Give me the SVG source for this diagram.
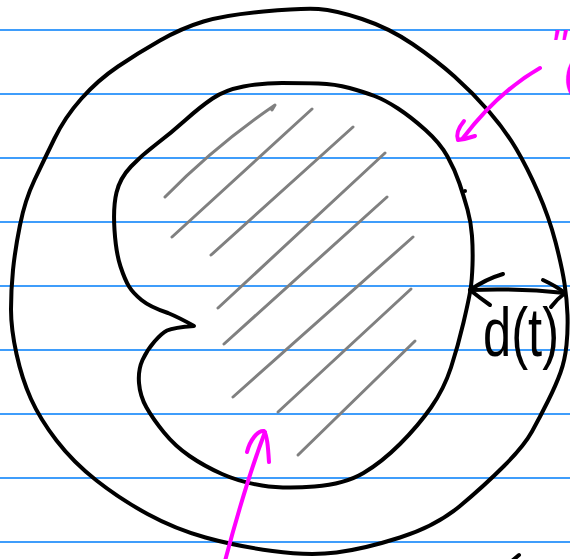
<svg xmlns="http://www.w3.org/2000/svg" width="570" height="559" viewBox="0 0 570 559">
  <style>
    .rule { stroke: #3f9dfb; stroke-width: 1.8; }
    .ink { fill: none; stroke: #000000; stroke-width: 4; stroke-linecap: round; stroke-linejoin: round; }
    .hatch { fill: none; stroke: #808080; stroke-width: 3; stroke-linecap: round; stroke-linejoin: round; }
    .pink { fill: none; stroke: #ff00ff; stroke-width: 4; stroke-linecap: round; stroke-linejoin: round; }
    .label { font-family: "Liberation Sans", Arial, sans-serif; }
  </style>
  <rect width="570" height="559" fill="#ffffff"/>
  <g id="ruling">
    <line class="rule" x1="0" y1="30" x2="570" y2="30"/>
    <line class="rule" x1="0" y1="94" x2="570" y2="94"/>
    <line class="rule" x1="0" y1="158" x2="570" y2="158"/>
    <line class="rule" x1="0" y1="222" x2="570" y2="222"/>
    <line class="rule" x1="0" y1="286" x2="570" y2="286"/>
    <line class="rule" x1="0" y1="350" x2="570" y2="350"/>
    <line class="rule" x1="0" y1="414" x2="570" y2="414"/>
    <line class="rule" x1="0" y1="478" x2="570" y2="478"/>
    <line class="rule" x1="0" y1="542" x2="570" y2="542"/>
  </g>
  <g id="outer-boundary">
    <path class="ink" d="M 263.5,11.5 Q 302,8 318.5,9 Q 335,10 362,19 Q 389,28 412.5,44 Q 436,60 454.5,76.5 Q 473,93 489,111.5 Q 505,130 516,148.5 Q 527,167 538,192 Q 549,217 555.5,242 Q 562,267 564.5,283.5 Q 567,300 567.5,315 Q 568,330 566.5,345 Q 565,360 560.5,372.5 Q 556,385 548,401 Q 540,417 532,431.5 Q 524,446 504,466 Q 484,486 460,506 Q 436,526 400,537.5 Q 364,549 336.5,552.5 Q 309,556 272.5,551 Q 236,546 205.5,537.5 Q 175,529 147.5,514 Q 120,499 96.5,480.5 Q 73,462 56.5,440.5 Q 40,419 31,399 Q 22,379 16.5,354 Q 11,329 11,309.5 Q 11,290 13,270 Q 15,250 20,225 Q 25,200 34.5,180 Q 44,160 54.5,138.5 Q 65,117 81.5,98.5 Q 98,80 118,66.5 Q 138,53 160,40.5 Q 182,28 203.5,21.5 Q 225,15 263.5,11.5 Z"/>
  </g>
  <g id="inner-region">
    <path class="ink" d="M 318.5,83.5 Q 335,84 349.5,88 Q 364,92 374.5,96 Q 385,100 398,108.5 Q 411,117 425.5,130 Q 440,143 447.5,156.5 Q 455,170 459.5,183.5 Q 464,197 467.5,209.5 Q 471,222 472,236 Q 473,250 472.5,265 Q 472,280 470.5,289.5 Q 469,299 463.5,322.5 Q 458,346 451,367.5 Q 444,389 431,407.5 Q 418,426 400,444 Q 382,462 363.5,473 Q 345,484 314.5,486.5 Q 284,489 262,485.5 Q 240,482 222,474 Q 204,466 189.5,456 Q 175,446 164,432.5 Q 153,419 146.5,407.5 Q 140,396 139,383 Q 138,370 142.5,360 Q 147,350 154.5,341.5 Q 162,333 167,330.5 Q 174,327.5 194,326 Q 180,318 168,313 Q 150,307 141.5,300 Q 133,293 129,286.5 Q 125,280 120.5,266.5 Q 116,253 114.5,230 Q 113,207 116.5,192.5 Q 120,178 131,166.5 Q 142,155 156.5,144 Q 171,133 185.5,120 Q 200,107 212.5,98.5 Q 225,90 243.5,86.5 Q 262,83 282,83 Q 302,83 318.5,83.5 Z"/>
    <circle cx="465" cy="191" r="2" fill="#000000"/>
    <g id="hatching">
      <path class="hatch" d="M 165,197 Q 215,146 275,105 L 272,110"/>
      <line class="hatch" x1="172" y1="237" x2="312" y2="109"/>
      <line class="hatch" x1="211" y1="255" x2="353" y2="127"/>
      <line class="hatch" x1="218" y1="308" x2="385" y2="153"/>
      <line class="hatch" x1="224" y1="344" x2="387" y2="197"/>
      <line class="hatch" x1="233" y1="397" x2="413" y2="237"/>
      <line class="hatch" x1="278" y1="412" x2="411" y2="289"/>
      <line class="hatch" x1="298" y1="455" x2="415" y2="341"/>
    </g>
  </g>
  <g id="connectors">
    <g id="arrow-outer">
      <path class="pink" d="M 540,68 Q 498,92 463,138"/>
      <path class="pink" d="M 464,121 Q 455,132 458,140 Q 466,139 475,136"/>
    </g>
    <g id="arrow-inner">
      <path class="pink" d="M 225,561 Q 246,482 265,432"/>
      <path class="pink" d="M 247,452 C 250,440 258,430 264,431 C 268,436 268,450 269,462"/>
    </g>
    <g id="arrow-distance">
      <path class="ink" d="M 470,290 Q 518,288 565,293"/>
      <path class="ink" d="M 503,274 Q 486,279 470,290 Q 480,298 490,305"/>
      <path class="ink" d="M 543,280 Q 556,286 565,293 Q 557,299 551,307"/>
    </g>
    <path class="ink" d="M 513,560 L 519,555"/>
  </g>
  <g id="labels">
    <text class="label" x="483" y="356" font-size="68" textLength="76" lengthAdjust="spacingAndGlyphs" fill="#000000">d(t)</text>
    <text class="label" x="550" y="62" font-size="46" font-style="italic" fill="#ff00ff">"<tspan x="564" y="86">(</tspan></text>
  </g>
</svg>
